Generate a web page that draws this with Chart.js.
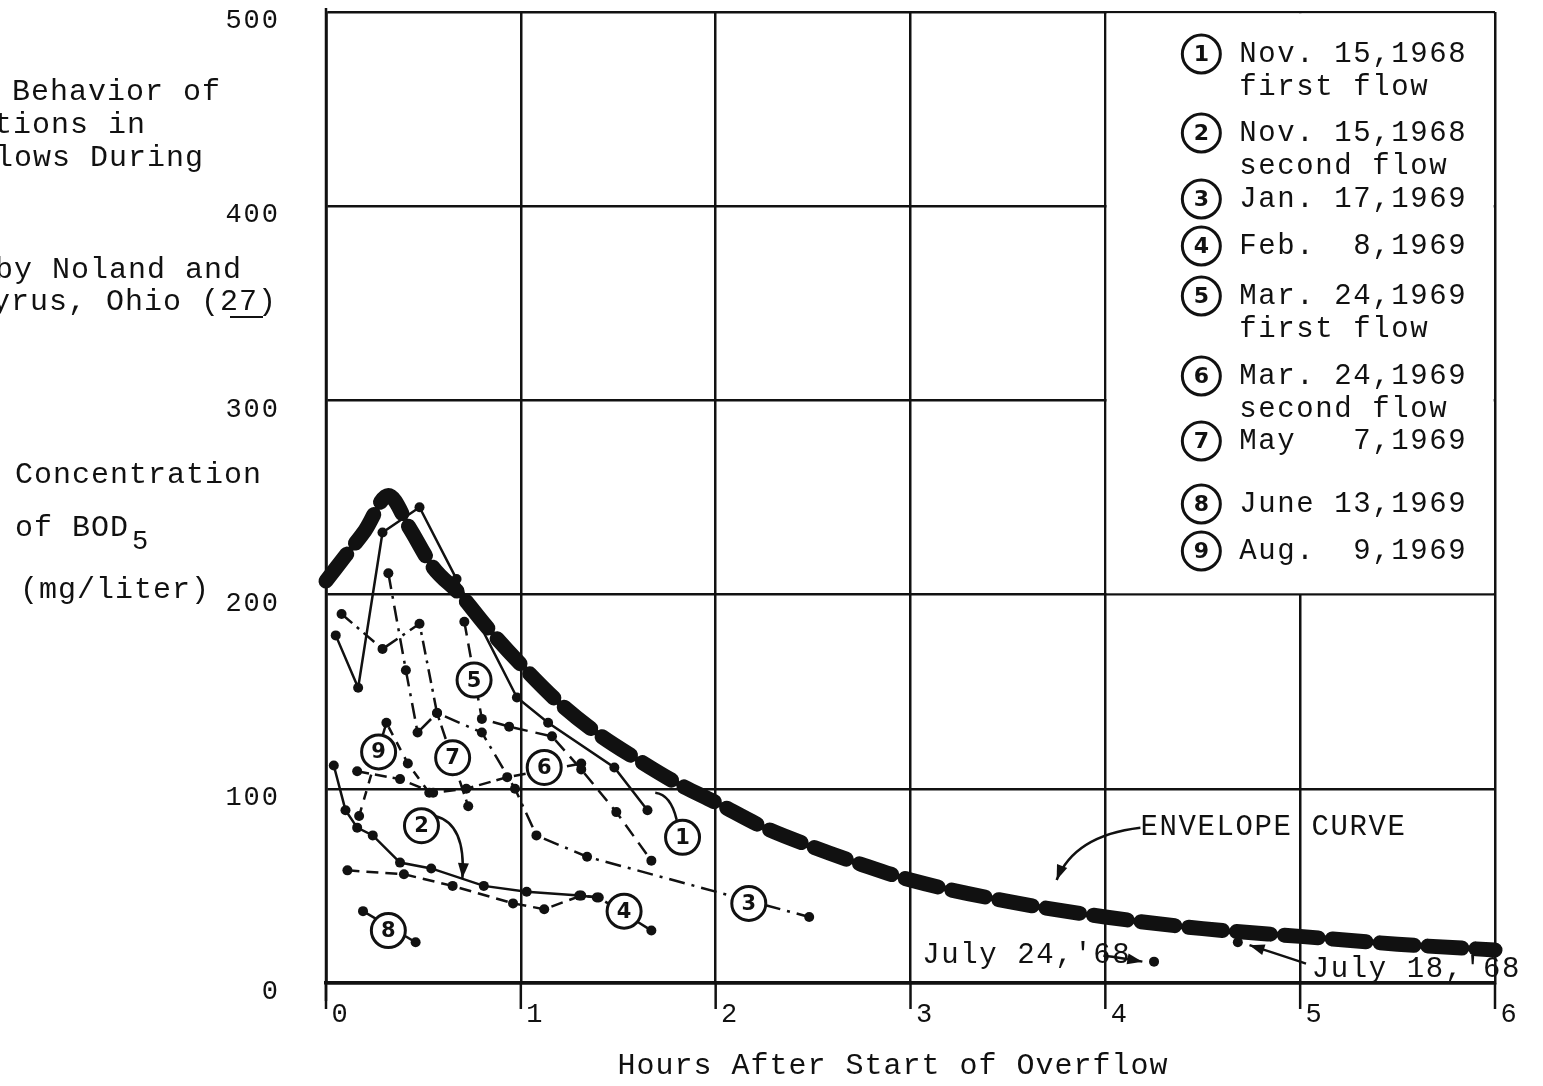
<!DOCTYPE html>
<html>
<head>
<meta charset="utf-8">
<title>BOD5 concentration in overflows</title>
<script src="https://cdn.jsdelivr.net/npm/chart.js@4.4.0/dist/chart.umd.min.js"></script>
<style>
  html, body { margin: 0; padding: 0; background: #fff; }
  #wrap { width: 1543px; height: 1086px; }
</style>
</head>
<body>
<div id="wrap"><canvas id="chart" width="1543" height="1086"></canvas></div>
<script>
// values: hours after start of overflow / BOD5 mg per liter
const envX = [0, 0.1, 0.2, 0.32, 0.43, 0.55, 0.69, 0.82, 1.0, 1.2, 1.4, 1.6, 1.8, 2.0, 2.25, 2.5, 2.75, 3.0, 3.5, 4.0, 4.5, 5.0, 5.5, 6.0];
const envY = [207, 220, 233, 251, 234, 214, 200, 184, 164, 144, 128, 115, 103, 93, 80, 70, 61, 53, 42, 34, 28, 24, 20, 17];

const s1X = [0.05, 0.165, 0.29, 0.48, 0.67, 0.98, 1.14, 1.48, 1.65];
const s1Y = [179, 152, 232, 245, 208, 147, 134, 111, 89];
const s2X = [0.04, 0.10, 0.16, 0.24, 0.38, 0.54, 0.81, 1.03, 1.30, 1.39];
const s2Y = [112, 89, 80, 76, 62, 59, 50, 47, 45, 44];
const s3X = [0.32, 0.41, 0.47, 0.57, 0.80, 0.97, 1.08, 1.34, 2.48];
const s3Y = [211, 161, 129, 139, 129, 100, 76, 65, 34];
const s4X = [0.11, 0.40, 0.65, 0.96, 1.12, 1.31, 1.40, 1.67];
const s4Y = [58, 56, 50, 41, 38, 45, 44, 27];
const s5X = [0.71, 0.80, 0.94, 1.16, 1.31, 1.49, 1.67];
const s5Y = [186, 136, 132, 127, 110, 88, 63];
const s6X = [0.16, 0.38, 0.55, 0.72, 0.93, 1.31];
const s6Y = [109, 105, 98, 100, 106, 113];
const s7X = [0.08, 0.29, 0.48, 0.57, 0.73];
const s7Y = [190, 172, 185, 139, 91];
const s8X = [0.19, 0.46];
const s8Y = [37, 21];
const s9X = [0.17, 0.31, 0.42, 0.53];
const s9Y = [86, 134, 113, 98];
const july24X = [4.25];
const july24Y = [11];
const july18X = [4.68];
const july18Y = [21];

const xTicks = [0, 1, 2, 3, 4, 5, 6];
const yTicks = [0, 100, 200, 300, 400, 500];

const legendNums = ['1', '2', '3', '4', '5', '6', '7', '8', '9'];
const legendLines = [
  ['Nov. 15,1968', 'first flow'],
  ['Nov. 15,1968', 'second flow'],
  ['Jan. 17,1969'],
  ['Feb.  8,1969'],
  ['Mar. 24,1969', 'first flow'],
  ['Mar. 24,1969', 'second flow'],
  ['May   7,1969'],
  ['June 13,1969'],
  ['Aug.  9,1969']
];
// where the circled numbers sit on the plot (hours, mg/l)
const tagX = [1.83, 0.49, 2.17, 1.53, 0.76, 1.12, 0.65, 0.32, 0.27];
const tagY = [75, 81, 41, 37, 156, 111, 116, 27, 119];

const FONT = '"Liberation Mono", "Courier New", monospace';
const INK = '#111';

function pts(xs, ys) {
  return xs.map((x, i) => ({ x: x, y: ys[i] }));
}

function series(xs, ys, dash) {
  return {
    data: pts(xs, ys),
    showLine: true,
    borderColor: INK,
    borderWidth: 2.5,
    borderDash: dash,
    pointRadius: 5,
    pointBackgroundColor: INK,
    pointBorderWidth: 0,
    clip: 20
  };
}

function text(ctx, s, x, y, size, align, spacing) {
  ctx.font = size + 'px ' + FONT;
  ctx.letterSpacing = (spacing === undefined ? 1 : spacing) + 'px';
  ctx.textAlign = align || 'left';
  ctx.textBaseline = 'middle';
  ctx.fillStyle = INK;
  ctx.fillText(s, x, y);
}

function arrow(ctx, x0, y0, cx, cy, x1, y1) {
  ctx.beginPath();
  ctx.moveTo(x0, y0);
  ctx.quadraticCurveTo(cx, cy, x1, y1);
  ctx.stroke();
  const a = Math.atan2(y1 - cy, x1 - cx);
  ctx.beginPath();
  ctx.moveTo(x1, y1);
  ctx.lineTo(x1 - 16 * Math.cos(a - 0.35), y1 - 16 * Math.sin(a - 0.35));
  ctx.lineTo(x1 - 16 * Math.cos(a + 0.35), y1 - 16 * Math.sin(a + 0.35));
  ctx.closePath();
  ctx.fill();
}

function circled(ctx, n, x, y, r, size) {
  ctx.save();
  ctx.setLineDash([]);
  ctx.beginPath();
  ctx.arc(x, y, r, 0, Math.PI * 2);
  ctx.fillStyle = '#fff';
  ctx.fill();
  ctx.lineWidth = 3;
  ctx.strokeStyle = INK;
  ctx.stroke();
  ctx.font = 'bold ' + size + 'px "DejaVu Sans", sans-serif';
  ctx.letterSpacing = '0px';
  ctx.textAlign = 'center';
  ctx.textBaseline = 'middle';
  ctx.fillStyle = INK;
  ctx.fillText(n, x, y + 1);
  ctx.restore();
}

// white legend panel in the upper right, drawn over the grid
const legendPanel = {
  id: 'legendPanel',
  beforeDatasetsDraw(chart) {
    const ctx = chart.ctx;
    const xs = chart.scales.x, ys = chart.scales.y;
    const l = xs.getPixelForValue(4), r = xs.getPixelForValue(6);
    const t = ys.getPixelForValue(500), b = ys.getPixelForValue(200);
    ctx.save();
    ctx.fillStyle = '#fff';
    ctx.fillRect(l + 1.3, t + 1.3, r - l - 2.6, b - t - 2.6);
    ctx.restore();

    // tick marks under the x axis and the long left axis
    ctx.save();
    ctx.strokeStyle = INK;
    ctx.lineWidth = 2.5;
    const y0 = ys.getPixelForValue(0);
    xTicks.forEach(v => {
      const px = xs.getPixelForValue(v);
      ctx.beginPath();
      ctx.moveTo(px, y0);
      ctx.lineTo(px, y0 + 26);
      ctx.stroke();
    });
    ctx.beginPath();
    ctx.moveTo(xs.getPixelForValue(0), ys.getPixelForValue(500) - 4);
    ctx.lineTo(xs.getPixelForValue(0), y0 + 18);
    ctx.stroke();
    ctx.restore();
  }
};

const annotations = {
  id: 'annotations',
  afterDatasetsDraw(chart) {
    const ctx = chart.ctx;
    const xs = chart.scales.x, ys = chart.scales.y;
    const X = v => xs.getPixelForValue(v);
    const Y = v => ys.getPixelForValue(v);
    ctx.save();

    // axis numbers
    yTicks.forEach(v => text(ctx, String(v), 280, Y(v) + 9, 27, 'right', 2));
    xTicks.forEach(v => text(ctx, String(v), X(v) + 14, Y(0) + 32, 27, 'center', 1));

    // left-hand page text and axis title
    text(ctx, 'Behavior of', 12, 92, 30, 'left', 1);
    text(ctx, 'ctions in', 146, 125, 30, 'right', 1);
    text(ctx, 'Flows During', 204, 158, 30, 'right', 1);
    text(ctx, 'by Noland and', 242, 270, 30, 'right', 1);
    text(ctx, 'Cyrus, Ohio (27)', 277, 302, 30, 'right', 1);
    ctx.fillStyle = INK;
    ctx.fillRect(230, 316, 33, 2);
    text(ctx, 'Concentration', 15, 475, 30, 'left', 1);
    text(ctx, 'of BOD', 15, 528, 30, 'left', 1);
    text(ctx, '5', 132, 542, 27, 'left', 1);
    text(ctx, '(mg/liter)', 20, 590, 30, 'left', 1);
    text(ctx, 'Hours After Start of Overflow', 893, 1066, 30, 'center', 1);

    // legend entries
    const lx = X(4);
    let ly = 54;
    legendLines.forEach((lines, i) => {
      circled(ctx, legendNums[i], lx + 96, ly, 19, 22);
      lines.forEach((s, j) => text(ctx, s, lx + 134, ly + j * 33, 29, 'left', 1.6));
      const gaps = [79, 66, 47, 50, 80, 65, 63, 47];
      ly += gaps[i] || 0;
    });

    // envelope and loose July points
    ctx.strokeStyle = INK;
    ctx.fillStyle = INK;
    ctx.lineWidth = 2.5;
    text(ctx, 'ENVELOPE CURVE', X(4.18), Y(80), 29, 'left', 1.6);
    arrow(ctx, X(4.18), Y(80), X(3.84), Y(76), X(3.75), Y(53));
    text(ctx, "July 24,'68", X(3.06), Y(14), 29, 'left', 1.6);
    arrow(ctx, X(3.99), Y(14), X(4.08), Y(13), X(4.19), Y(11));
    text(ctx, "July 18,'68", X(5.06), Y(7), 29, 'left', 1.6);
    arrow(ctx, X(5.03), Y(10), X(4.85), Y(16), X(4.74), Y(19.5));

    // label 2 arrow and label 1 leader
    arrow(ctx, X(0.56), Y(86), X(0.72), Y(82), X(0.70), Y(54));
    ctx.beginPath();
    ctx.moveTo(X(1.80), Y(84));
    ctx.quadraticCurveTo(X(1.77), Y(97), X(1.69), Y(98));
    ctx.stroke();

    // circled series numbers
    tagX.forEach((x, i) => circled(ctx, legendNums[i], X(x), Y(tagY[i]), 17, 21));
    ctx.restore();
  }
};

new Chart(document.getElementById('chart'), {
  type: 'scatter',
  data: {
    datasets: [
      {
        data: pts(envX, envY),
        showLine: true,
        borderColor: INK,
        borderWidth: 15,
        borderDash: [34, 14],
        borderCapStyle: 'round',
        cubicInterpolationMode: 'monotone',
        pointRadius: 0,
        clip: 20
      },
      series(s1X, s1Y, []),
      series(s2X, s2Y, []),
      series(s3X, s3Y, [16, 7, 3, 7]),
      series(s4X, s4Y, [12, 7]),
      series(s5X, s5Y, [14, 8]),
      series(s6X, s6Y, [12, 6]),
      series(s7X, s7Y, [14, 6, 3, 6]),
      series(s8X, s8Y, []),
      series(s9X, s9Y, [9, 8]),
      series(july24X, july24Y, []),
      series(july18X, july18Y, [])
    ]
  },
  options: {
    responsive: false,
    devicePixelRatio: 1,
    animation: false,
    layout: { padding: { left: 326, right: 48, top: 12, bottom: 103 } },
    plugins: { legend: { display: false }, tooltip: { enabled: false } },
    scales: {
      x: {
        type: 'linear', min: 0, max: 6,
        ticks: { stepSize: 1, display: false },
        grid: { color: INK, lineWidth: 2.5, drawTicks: false },
        border: { color: INK, width: 3.5 }
      },
      y: {
        type: 'linear', min: 0, max: 500,
        ticks: { stepSize: 100, display: false },
        grid: { color: INK, lineWidth: 2.5, drawTicks: false },
        border: { color: INK, width: 2.5 }
      }
    }
  },
  plugins: [legendPanel, annotations]
});
</script>
</body>
</html>
